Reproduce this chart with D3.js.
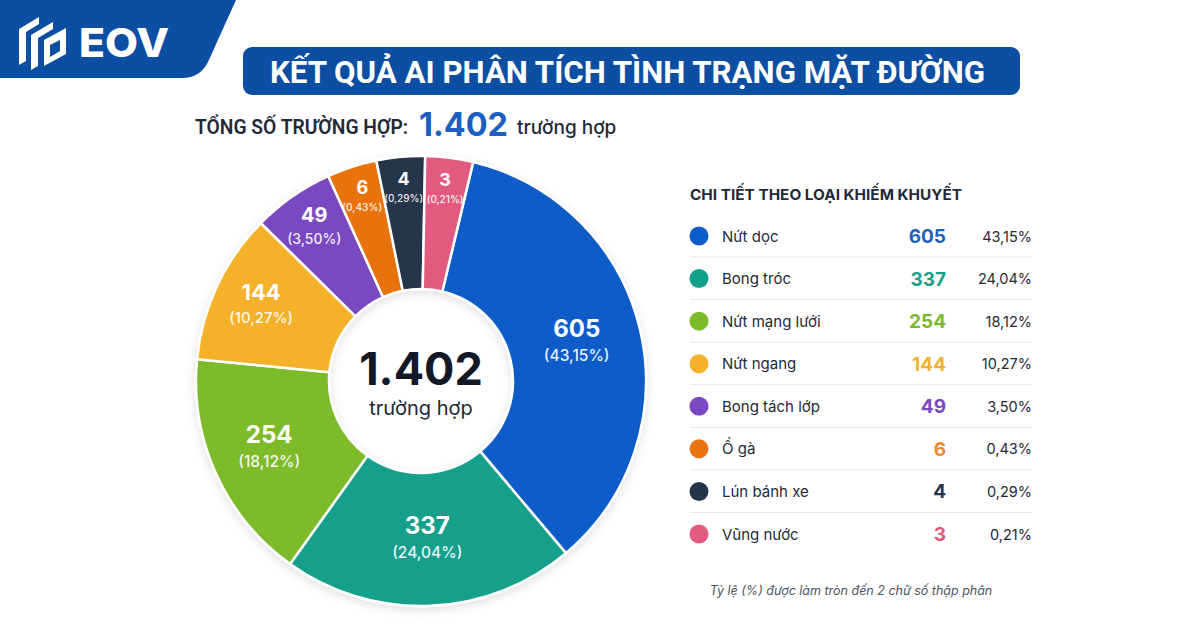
<!DOCTYPE html>
<html>
<head>
<meta charset="utf-8">
<script src="https://cdn.jsdelivr.net/npm/d3@7"></script>
<style>
  body { margin: 0; background: #fff; }
  svg { display: block; font-family: Inter, "Noto Sans", sans-serif; }
</style>
</head>
<body>
<div id="chart"></div>
<script>
// data
const categories = ["Nứt dọc", "Bong tróc", "Nứt mạng lưới", "Nứt ngang", "Bong tách lớp", "Ổ gà", "Lún bánh xe", "Vũng nước"];
const counts = [605, 337, 254, 144, 49, 6, 4, 3];
const sliceColors = ["#0b5cc8", "#12a08b", "#7dbb2b", "#f5b12a", "#7a48c2", "#e8730f", "#263449", "#e35a80"];
const valueColors = ["#1f5fbf", "#1c9f8a", "#7bb82f", "#f2b233", "#7a48c2", "#ea8a2c", "#263449", "#e0587c"];

const title = "KẾT QUẢ AI PHÂN TÍCH TÌNH TRẠNG MẶT ĐƯỜNG";
const legendTitle = "CHI TIẾT THEO LOẠI KHIẾM KHUYẾT";
const footnote = "Tỷ lệ (%) được làm tròn đến 2 chữ số thập phân";

const vn = d3.formatLocale({decimal: ",", thousands: ".", grouping: [3], currency: ["", ""]});
const fmtTotal = vn.format(",d");
const fmtPct = vn.format(".2%");

const total = d3.sum(counts);
const data = categories.map((c, i) => ({name: c, count: counts[i], color: sliceColors[i], vcolor: valueColors[i]}));

const width = 1200, height = 630;
const svg = d3.select("#chart").append("svg")
    .attr("width", width)
    .attr("height", height);

const defs = svg.append("defs");
const shadow = defs.append("filter").attr("id", "shadow")
    .attr("x", "-20%").attr("y", "-20%").attr("width", "140%").attr("height", "140%");
shadow.append("feDropShadow")
    .attr("dx", 0).attr("dy", 3).attr("stdDeviation", 5)
    .attr("flood-color", "#000").attr("flood-opacity", 0.12);

// header band with logo
svg.append("path")
    .attr("d", "M0,0 H236 L208,62 Q200,78 182,78 H0 Z")
    .attr("fill", "#0b4ea2");

const logo = svg.append("g").attr("fill", "#fff");
logo.append("path").attr("d", "M19,29 L39,17 L39,24 L26,32 L26,61 L19,65 Z");
logo.append("path").attr("d", "M31,35 L53,22 L53,29 L38,38 L38,66 L31,70 Z");
logo.append("path").attr("d", "M44,40 L66,28 L66,54 L44,66 Z M50,45 L50,57 L60,51 L60,40 Z");
svg.append("text")
    .attr("x", 79).attr("y", 57)
    .attr("fill", "#fff")
    .attr("font-family", "Inter, sans-serif")
    .attr("font-weight", 800)
    .attr("font-size", 40)
    .attr("textLength", 90)
    .attr("lengthAdjust", "spacingAndGlyphs")
    .text("EOV");

// title banner
svg.append("rect")
    .attr("x", 243).attr("y", 47)
    .attr("width", 777).attr("height", 48)
    .attr("rx", 9)
    .attr("fill", "#0b4ea2");
svg.append("text")
    .attr("x", 270).attr("y", 83)
    .attr("fill", "#fff")
    .attr("font-family", "'Liberation Sans Narrow', Roboto, sans-serif")
    .attr("font-weight", 700)
    .attr("font-size", 31)
    .attr("textLength", 715)
    .attr("lengthAdjust", "spacingAndGlyphs")
    .text(title);

// total line
svg.append("text")
    .attr("x", 195).attr("y", 134)
    .attr("fill", "#1f2937")
    .attr("font-family", "'Liberation Sans Narrow', Roboto, sans-serif")
    .attr("font-weight", 600)
    .attr("font-size", 20)
    .attr("textLength", 213)
    .attr("lengthAdjust", "spacingAndGlyphs")
    .text("TỔNG SỐ TRƯỜNG HỢP:");
svg.append("text")
    .attr("x", 419).attr("y", 136)
    .attr("fill", "#1d5fc0")
    .attr("font-weight", 700)
    .attr("font-size", 33)
    .attr("textLength", 89)
    .attr("lengthAdjust", "spacingAndGlyphs")
    .text(fmtTotal(total));
svg.append("text")
    .attr("x", 517).attr("y", 134)
    .attr("fill", "#1f2937")
    .attr("font-weight", 500)
    .attr("font-size", 19)
    .text("trường hợp");

// donut
const cx = 421, cy = 381, outerR = 225, innerR = 92;

// the reference widens the small categories so every slice stays visible
const sliceWeight = d3.scaleLinear().domain([0, 605]).range([62, 667]);
const startA = 13.4 * Math.PI / 180;
const pie = d3.pie()
    .sort(null)
    .value(d => sliceWeight(d.count))
    .startAngle(startA)
    .endAngle(startA + 2 * Math.PI);
const arcs = pie(data);

const arc = d3.arc().innerRadius(innerR).outerRadius(outerR);
// narrow slices carry their labels further out
const labelR = d3.scaleLinear().domain([0.2, 0.7, 1.3]).range([192, 176, 160]).clamp(true);
const labelArc = d3.arc()
    .innerRadius(d => labelR(d.endAngle - d.startAngle))
    .outerRadius(d => labelR(d.endAngle - d.startAngle));

const g = svg.append("g").attr("transform", `translate(${cx},${cy})`);
g.append("g").attr("filter", "url(#shadow)")
  .selectAll("path")
  .data(arcs)
  .join("path")
    .attr("d", arc)
    .attr("fill", d => d.data.color)
    .attr("stroke", "#fff")
    .attr("stroke-width", 2.5)
    .attr("stroke-linejoin", "round");

const numSize = d3.scaleLinear().domain([0.22, 0.37, 0.68, 1.0]).range([18, 20, 22, 24]).clamp(true);
const pctSize = d3.scaleLinear().domain([0.22, 0.37, 0.68, 1.0]).range([10, 14, 15, 15.5]).clamp(true);

const labels = g.selectAll("g.lab")
  .data(arcs)
  .join("g")
    .attr("class", "lab")
    .attr("transform", d => `translate(${labelArc.centroid(d)})`);

labels.append("text")
    .attr("text-anchor", "middle")
    .attr("y", d => -numSize(d.endAngle - d.startAngle) * 0.3)
    .attr("fill", "#fff")
    .attr("font-weight", 700)
    .attr("font-size", d => numSize(d.endAngle - d.startAngle))
    .text(d => d.data.count);

labels.append("text")
    .attr("text-anchor", "middle")
    .attr("y", d => {
      const s = d.endAngle - d.startAngle;
      return -numSize(s) * 0.3 + pctSize(s) * 1.3 + 4;
    })
    .attr("fill", "#fff")
    .attr("fill-opacity", 0.92)
    .attr("font-weight", 500)
    .attr("font-size", d => pctSize(d.endAngle - d.startAngle))
    .text(d => "(" + fmtPct(d.data.count / total) + ")");

g.append("text")
    .attr("text-anchor", "middle")
    .attr("y", 4)
    .attr("fill", "#111827")
    .attr("font-weight", 700)
    .attr("font-size", 45)
    .text(fmtTotal(total));
g.append("text")
    .attr("text-anchor", "middle")
    .attr("y", 34)
    .attr("fill", "#1f2937")
    .attr("font-weight", 400)
    .attr("font-size", 20)
    .text("trường hợp");

// legend table
const lx = 690, lRight = 1032;
svg.append("text")
    .attr("x", lx).attr("y", 200)
    .attr("fill", "#1f2937")
    .attr("font-weight", 700)
    .attr("font-size", 15)
    .attr("textLength", 272)
    .attr("lengthAdjust", "spacingAndGlyphs")
    .text(legendTitle);

const rowY = d3.scalePoint().domain(categories).range([236, 534]);

const rows = svg.append("g").selectAll("g")
  .data(data)
  .join("g")
    .attr("transform", d => `translate(0,${rowY(d.name)})`);

rows.filter((d, i) => i < data.length - 1)
  .append("line")
    .attr("x1", lx).attr("x2", lRight)
    .attr("y1", 21).attr("y2", 21)
    .attr("stroke", "#e5e7eb")
    .attr("stroke-width", 1);

rows.append("circle")
    .attr("cx", 699).attr("cy", 0).attr("r", 9.5)
    .attr("fill", d => d.color);

rows.append("text")
    .attr("x", 722).attr("y", 5.5)
    .attr("fill", "#1f2937")
    .attr("font-size", 15)
    .text(d => d.name);

rows.append("text")
    .attr("x", 946).attr("y", 7)
    .attr("text-anchor", "end")
    .attr("fill", d => d.vcolor)
    .attr("font-weight", 700)
    .attr("font-size", 19)
    .text(d => d.count);

rows.append("text")
    .attr("x", lRight).attr("y", 5.5)
    .attr("text-anchor", "end")
    .attr("fill", "#1f2937")
    .attr("font-size", 14.5)
    .text(d => fmtPct(d.count / total));

svg.append("text")
    .attr("x", 851).attr("y", 595)
    .attr("text-anchor", "middle")
    .attr("fill", "#4b5563")
    .attr("font-style", "italic")
    .attr("font-size", 12.5)
    .text(footnote);
</script>
</body>
</html>
